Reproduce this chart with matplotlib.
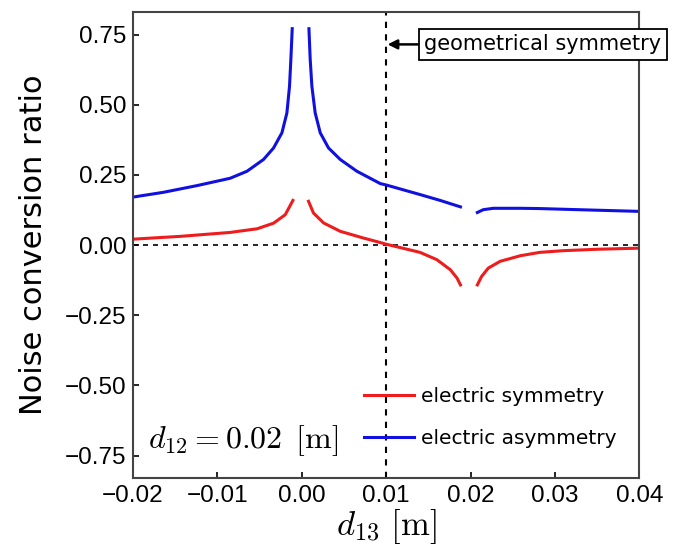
import matplotlib
matplotlib.use("Agg")
import matplotlib.pyplot as plt

plt.rcParams['mathtext.fontset'] = 'cm'
plt.rcParams['font.family'] = ['Liberation Sans', 'DejaVu Sans']

# values
asym_left_x = [-0.02, -0.0164, -0.0124, -0.0085, -0.0065, -0.00454, -0.00335,
               -0.00236, -0.00177, -0.00146, -0.0013, -0.00114]
asym_left_y = [0.171, 0.188, 0.212, 0.238, 0.263, 0.305, 0.346,
               0.400, 0.471, 0.566, 0.662, 0.771]
asym_mid_x = [0.00084, 0.00099, 0.00119, 0.00158, 0.00218, 0.00316, 0.00455,
              0.00652, 0.0093, 0.0100, 0.0140, 0.0164, 0.0188]
asym_mid_y = [0.771, 0.662, 0.566, 0.471, 0.400, 0.346, 0.305,
              0.263, 0.219, 0.214, 0.180, 0.159, 0.136]
asym_right_x = [0.0208, 0.0215, 0.0227, 0.0259, 0.0282, 0.034, 0.04]
asym_right_y = [0.116, 0.126, 0.131, 0.131, 0.130, 0.125, 0.120]

sym_left_x = [-0.02, -0.0144, -0.0085, -0.0053, -0.00335, -0.00197, -0.00106]
sym_left_y = [0.021, 0.031, 0.045, 0.058, 0.078, 0.108, 0.159]
sym_mid_x = [0.00079, 0.00138, 0.00257, 0.00455, 0.0073, 0.0093, 0.0100,
             0.0140, 0.0160, 0.0176, 0.0184, 0.0188]
sym_mid_y = [0.156, 0.114, 0.079, 0.049, 0.025, 0.009, 0.003,
             -0.026, -0.052, -0.088, -0.118, -0.142]
sym_right_x = [0.0208, 0.0213, 0.0221, 0.0235, 0.0259, 0.0282, 0.031, 0.035, 0.04]
sym_right_y = [-0.142, -0.112, -0.082, -0.058, -0.038, -0.026, -0.020, -0.015, -0.011]

xticks = [-0.02, -0.01, 0.00, 0.01, 0.02, 0.03, 0.04]
yticks = [-0.75, -0.50, -0.25, 0.00, 0.25, 0.50, 0.75]

red = '#ee1c1c'
blue = '#1010e0'
wide = ['DejaVu Sans']

fig = plt.figure(figsize=(6.86, 5.51), dpi=100)
ax = fig.add_axes([0.194, 0.1325, 0.738, 0.8455])

ax.axhline(0, color='black', ls=(0, (3, 3)), lw=1.2, zorder=1)
ax.axvline(0.01, color='black', ls=(0, (3, 3)), lw=1.5, zorder=1)

ax.plot(sym_left_x, sym_left_y, color=red, lw=2.2, label='electric symmetry')
ax.plot(sym_mid_x, sym_mid_y, color=red, lw=2.2)
ax.plot(sym_right_x, sym_right_y, color=red, lw=2.2)
ax.plot(asym_left_x, asym_left_y, color=blue, lw=2.2, label='electric asymmetry')
ax.plot(asym_mid_x, asym_mid_y, color=blue, lw=2.2)
ax.plot(asym_right_x, asym_right_y, color=blue, lw=2.2)

ax.set_xlim(-0.02, 0.04)
ax.set_ylim(-0.83, 0.83)
ax.set_xticks(xticks)
ax.set_xticklabels([('%.2f' % t).replace('-', '\u2212') for t in xticks])
ax.set_yticks(yticks)
ax.set_yticklabels([('%.2f' % t).replace('-', '\u2212') for t in yticks])
ax.tick_params(direction='in', length=4, width=1.2, labelsize=17.5, pad=5)
for s in ax.spines.values():
    s.set_color('#444444')
    s.set_linewidth(1.5)

ax.set_ylabel('Noise conversion ratio', fontsize=22, family=wide, labelpad=12)
ax.set_xlabel(r'$d_{13}\ [\mathrm{m}]$', fontsize=25, labelpad=0)

ax.text(-0.0182, -0.695, r'$d_{12} = 0.02\ \,[\mathrm{m}]$', fontsize=23,
        va='center', ha='left')

ax.annotate('geometrical symmetry', xy=(0.01, 0.715), xytext=(0.0145, 0.715),
            fontsize=15, va='center', ha='left', annotation_clip=False,
            family=wide,
            bbox=dict(boxstyle='square,pad=0.25', fc='white', ec='black', lw=1.3),
            arrowprops=dict(arrowstyle='-|>', color='black', lw=1.8,
                            mutation_scale=14, shrinkA=0, shrinkB=1))

ax.legend(loc='lower left', bbox_to_anchor=(0.42, 0.025), frameon=False,
          handlelength=2.5, labelspacing=1.15, handletextpad=0.35,
          prop={'family': wide, 'size': 14.5})

fig.savefig('out.png', dpi=100)
